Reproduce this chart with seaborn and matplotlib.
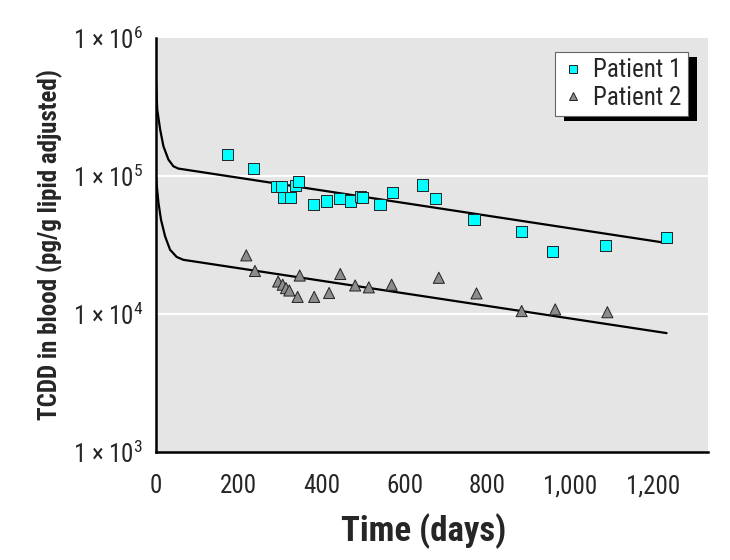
import numpy as np
import pandas as pd
import matplotlib
matplotlib.use("Agg")
import matplotlib.pyplot as plt
import seaborn as sns
from matplotlib.patches import Rectangle

# --- data ---
P1_DAYS = [173, 236, 291, 304, 308, 324, 337, 345, 380, 412, 444, 470, 493, 499,
           541, 571, 643, 676, 768, 882, 958, 1085, 1233]
P1_TCDD = [143000, 113000, 83800, 83800, 70000, 70000, 85000, 91500, 61700, 65900,
           68500, 65900, 71200, 70000, 61700, 75800, 86100, 68500, 48500, 39700,
           28300, 31300, 35900]

P2_DAYS = [218, 239, 295, 306, 314, 322, 342, 347, 382, 418, 445, 481, 514, 569,
           683, 774, 883, 964, 1090]
P2_TCDD = [26600, 20500, 17200, 16300, 15400, 14800, 13300, 19000, 13300, 14200,
           19500, 16100, 15600, 16300, 18300, 14100, 10500, 10800, 10300]

# fitted curves, points
FIT1_DAYS = [0, 3, 10, 18, 30, 42, 54, 130, 1233]
FIT1_TCDD = [490000, 303000, 217000, 164000, 131500, 117600, 113200, 104500, 32700]
FIT2_DAYS = [0, 6, 12, 22, 34, 50, 66, 130, 1233]
FIT2_TCDD = [97000, 63800, 48300, 36500, 29200, 25900, 24700, 23100, 7270]

SERIES = ["Patient 1", "Patient 2"]
X_TICKS = [0, 200, 400, 600, 800, 1000, 1200]
X_TICK_LABELS = ["0", "200", "400", "600", "800", "1,000", "1,200"]
Y_TICKS = [1e3, 1e4, 1e5, 1e6]
Y_TICK_LABELS = [r"1 $\times$ 10$^{3}$", r"1 $\times$ 10$^{4}$",
                 r"1 $\times$ 10$^{5}$", r"1 $\times$ 10$^{6}$"]

pts = pd.concat([
    pd.DataFrame({"day": P1_DAYS, "tcdd": P1_TCDD, "patient": SERIES[0]}),
    pd.DataFrame({"day": P2_DAYS, "tcdd": P2_TCDD, "patient": SERIES[1]}),
], ignore_index=True)
fits = pd.concat([
    pd.DataFrame({"day": FIT1_DAYS, "tcdd": FIT1_TCDD, "patient": SERIES[0]}),
    pd.DataFrame({"day": FIT2_DAYS, "tcdd": FIT2_TCDD, "patient": SERIES[1]}),
], ignore_index=True)

sns.set_style("white", {"axes.facecolor": "#e5e5e5"})
FONT = ["Roboto Condensed", "Liberation Sans Narrow", "Roboto", "DejaVu Sans"]
plt.rcParams["font.family"] = FONT
plt.rcParams["mathtext.fontset"] = "custom"
plt.rcParams["mathtext.rm"] = "Roboto Condensed"
plt.rcParams["mathtext.it"] = "Roboto Condensed"

fig = plt.figure(figsize=(7.3, 5.6), dpi=100)
ax = fig.add_axes([156 / 730, 108 / 560, 552 / 730, 414 / 560])

ax.set_yscale("log")
for y in [1e4, 1e5]:
    ax.axhline(y, color="white", lw=1.6, zorder=0.5)

sns.lineplot(data=fits, x="day", y="tcdd", units="patient", estimator=None,
             color="black", lw=1.6, ax=ax, legend=False, sort=False)

sns.scatterplot(data=pts, x="day", y="tcdd", hue="patient", style="patient",
                markers={"Patient 1": "s", "Patient 2": "^"},
                palette={"Patient 1": "#00ffff", "Patient 2": "#8c8c8c"},
                s=64, edgecolor="#222222", linewidth=0.7, ax=ax, zorder=3)

ax.set_xlim(0, 1333)
ax.set_ylim(1e3, 1e6)
ax.set_xticks(X_TICKS)
ax.set_xticklabels(X_TICK_LABELS)
ax.set_yticks(Y_TICKS)
ax.set_yticklabels(Y_TICK_LABELS)
ax.yaxis.set_minor_locator(matplotlib.ticker.NullLocator())
ax.tick_params(axis="x", length=10, width=1.2, color="#999999", labelsize=18, pad=6)
ax.tick_params(axis="y", length=3, width=1.2, color="black", labelsize=18, pad=6)

for side in ["top", "right"]:
    ax.spines[side].set_visible(False)
for side in ["left", "bottom"]:
    ax.spines[side].set_color("black")
    ax.spines[side].set_linewidth(1.8)

ax.set_xlabel("Time (days)", fontsize=25, fontweight="bold")
ax.set_ylabel("TCDD in blood (pg/g lipid adjusted)", fontsize=18, fontweight="bold")
ax.xaxis.set_label_coords(0.484, -0.147)
ax.yaxis.set_label_coords(-0.168, 0.5)

leg = ax.legend(loc="upper right", bbox_to_anchor=(688 / 730, 508 / 560),
                bbox_transform=fig.transFigure, frameon=True, fancybox=False,
                fontsize=18, markerscale=0.8, handletextpad=0.3, borderpad=0.25,
                labelspacing=0.15, handlelength=1.0, borderaxespad=0)
leg.get_frame().set_edgecolor("#666666")
leg.get_frame().set_linewidth(0.8)
leg.get_frame().set_facecolor("white")
leg.get_frame().set_alpha(1)
leg.set_zorder(10)

# black drop shadow behind the legend box
fig.canvas.draw()
bb = leg.get_window_extent().transformed(fig.transFigure.inverted())
shadow = Rectangle((bb.x0 + 9 / 730, bb.y0 - 5 / 560), bb.width, bb.height,
                   transform=fig.transFigure, facecolor="black", edgecolor="none",
                   zorder=9, clip_on=False)
ax.add_patch(shadow)

fig.savefig("out.png", dpi=100)
